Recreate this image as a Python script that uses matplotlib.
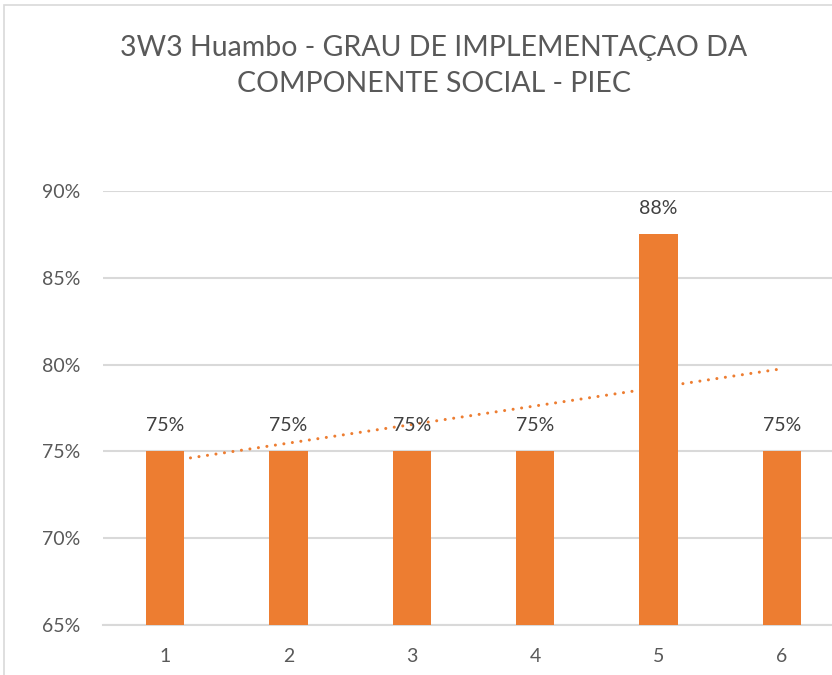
import matplotlib
matplotlib.use('Agg')
import matplotlib.pyplot as plt
from matplotlib.patches import Rectangle
import numpy as np

# chart data
categories = [1, 2, 3, 4, 5, 6]
values = [0.75, 0.75, 0.75, 0.75, 0.875, 0.75]
labels = ['75%', '75%', '75%', '75%', '88%', '75%']
y_ticks = [0.65, 0.70, 0.75, 0.80, 0.85, 0.90]
title = '3W3 Huambo - GRAU DE IMPLEMENTAÇAO DA\nCOMPONENTE SOCIAL - PIEC'

orange = '#ED7D31'
grid_c = '#D9D9D9'
text_c = '#595959'

plt.rcParams['font.family'] = ['Lato', 'DejaVu Sans']

W, H = 832, 675
fig = plt.figure(figsize=(W / 100, H / 100), dpi=100)

# chart area border (right/bottom cut off like the screenshot)
fig.patches.append(Rectangle((4 / W, -0.1), 1.2, 1 - 5 / H + 0.1,
                             transform=fig.transFigure, fill=False,
                             edgecolor=grid_c, linewidth=1.2))

left, right = 103.3 / W, 843.7 / W
bottom, top = (H - 625) / H, (H - 191) / H
ax = fig.add_axes([left, bottom, right - left, top - bottom])

x = np.array(categories)
y = np.array(values)
ax.bar(x, y, width=0.31, color=orange, zorder=3)

# linear trendline
k, b = np.polyfit(x, y, 1)
ax.plot(x[[0, -1]], k * x[[0, -1]] + b, color=orange, linewidth=2.2,
        linestyle=(0, (0.01, 2.8)), dash_capstyle='round', zorder=2)

for xi, yi, lab in zip(x, y, labels):
    ax.annotate(lab, (xi, yi), xytext=(0, 18.5), textcoords='offset points',
                ha='center', va='center', fontsize=14, color='#404040')

ax.set_xlim(0.5, 6.5)
ax.set_ylim(0.65, 0.90)
ax.set_yticks(y_ticks)
ax.set_yticklabels([f'{int(round(t * 100))}%' for t in y_ticks])
ax.set_xticks(categories)
ax.set_xticklabels([str(c) for c in categories])
ax.grid(axis='y', color=grid_c, linewidth=1.5, zorder=0)
ax.set_axisbelow(True)
for s in ['top', 'right', 'left']:
    ax.spines[s].set_visible(False)
ax.spines['bottom'].set_color(grid_c)
ax.spines['bottom'].set_linewidth(1.5)
ax.tick_params(axis='both', length=0, labelsize=14, labelcolor=text_c)
ax.tick_params(axis='y', pad=16.5)
ax.tick_params(axis='x', pad=16.5)

fig.text(434 / W, 1 - 66 / H, title, ha='center', va='center',
         fontsize=20.5, color=text_c, linespacing=1.45)

fig.savefig('out.png', dpi=100)
